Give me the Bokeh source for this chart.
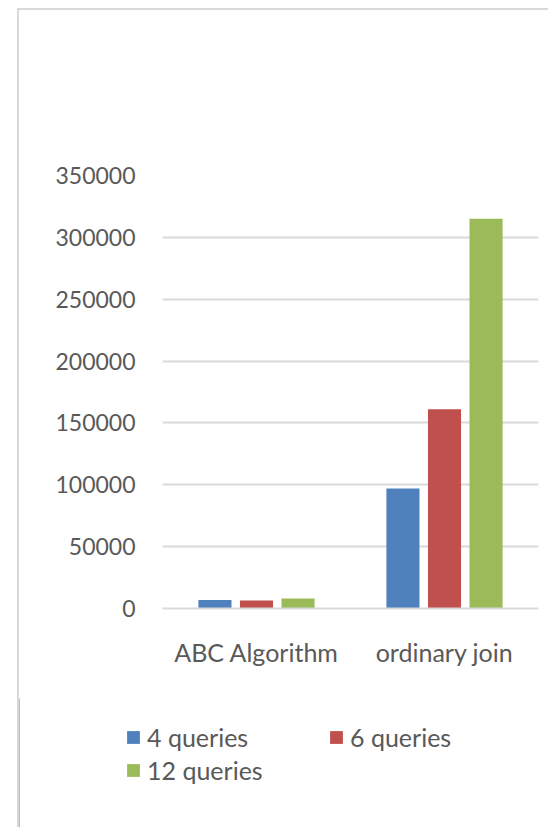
from bokeh.plotting import figure
from bokeh.layouts import column
from bokeh.models import FactorRange, Range1d, FixedTicker, PrintfTickFormatter, Legend, LegendItem, ColumnDataSource
from bokeh.transform import dodge
from bokeh.embed import file_html
from bokeh.resources import INLINE

categories = ["ABC Algorithm", "ordinary join"]
series = ["4 queries", "6 queries", "12 queries"]
q4 = [6800, 97000]
q6 = [6500, 161000]
q12 = [8100, 315000]
y_ticks = [0, 50000, 100000, 150000, 200000, 250000, 300000, 350000]
colors = ["#4F81BD", "#C0504D", "#9BBB59"]

FONT = "Lato"
TXT = "#595959"
GRID = "#d9d9d9"

src = ColumnDataSource(dict(cat=categories, q4=q4, q6=q6, q12=q12))

p = figure(width=531, height=690, x_range=FactorRange(*categories), y_range=Range1d(0, 350000),
           output_backend="svg", toolbar_location=None,
           min_border_left=143, min_border_right=12, min_border_top=165, min_border_bottom=92)
p.styles = {"border-left": "2px solid #d9d9d9", "border-top": "2px solid #d9d9d9"}
p.outline_line_color = None
p.background_fill_alpha = 0
p.border_fill_alpha = 0

offsets = [-0.221, 0.0, 0.221]
cols = ["q4", "q6", "q12"]
for col, off, c in zip(cols, offsets, colors):
    p.vbar(x=dodge("cat", off, range=p.x_range), top=col, width=0.176, source=src,
           fill_color=c, line_color=None)

p.xgrid.grid_line_color = None
p.ygrid.grid_line_color = GRID
p.ygrid.grid_line_width = 2
p.yaxis.ticker = FixedTicker(ticks=y_ticks)
p.yaxis.formatter = PrintfTickFormatter(format="%d")
p.yaxis.axis_line_color = None
p.yaxis.major_tick_line_color = None
p.yaxis.minor_tick_line_color = None
p.yaxis.major_label_standoff = 21
p.yaxis.major_label_text_font_size = "23px"
p.xaxis.axis_line_color = GRID
p.xaxis.axis_line_width = 2
p.xaxis.major_tick_line_color = None
p.xaxis.minor_tick_line_color = None
p.xaxis.major_label_standoff = 22
p.xaxis.major_label_text_font_size = "25px"
for ax in (p.xaxis, p.yaxis):
    ax.major_label_text_font = FONT
    ax.major_label_text_color = TXT

# legend panel (separate figure so the legend can sit left of the chart frame)
p2 = figure(width=531, height=129, x_range=Range1d(0, 1), y_range=Range1d(0, 1),
            output_backend="svg", toolbar_location=None, x_axis_type=None, y_axis_type=None,
            min_border=0)
p2.styles = {"border-left": "2px solid #d9d9d9"}
p2.frame_align = False
p2.outline_line_color = None
p2.grid.grid_line_color = None
p2.background_fill_alpha = 0
p2.border_fill_alpha = 0
# swatch renderers for the legend keys (placed outside the visible range)
leg_r = [p2.vbar(x=[-5], top=[1], width=0.1, fill_color=c, line_color=None) for c in colors]

def mk_legend(idx, loc):
    lg = Legend(items=[LegendItem(label=series[i], renderers=[leg_r[i]]) for i in idx],
                location=loc, orientation="vertical",
                glyph_width=16, glyph_height=16, label_standoff=6, spacing=3,
                padding=0, margin=0, border_line_color=None, background_fill_alpha=0,
                label_text_font=FONT, label_text_font_size="25px", label_text_color=TXT)
    p2.add_layout(lg, "center")

mk_legend([0, 2], (106, 42))
mk_legend([1], (309, 75))

layout = column(p, p2, spacing=0)
layout.styles = {"margin-left": "17px", "margin-top": "8px"}

open("out.html", "w").write(file_html(layout, INLINE))
